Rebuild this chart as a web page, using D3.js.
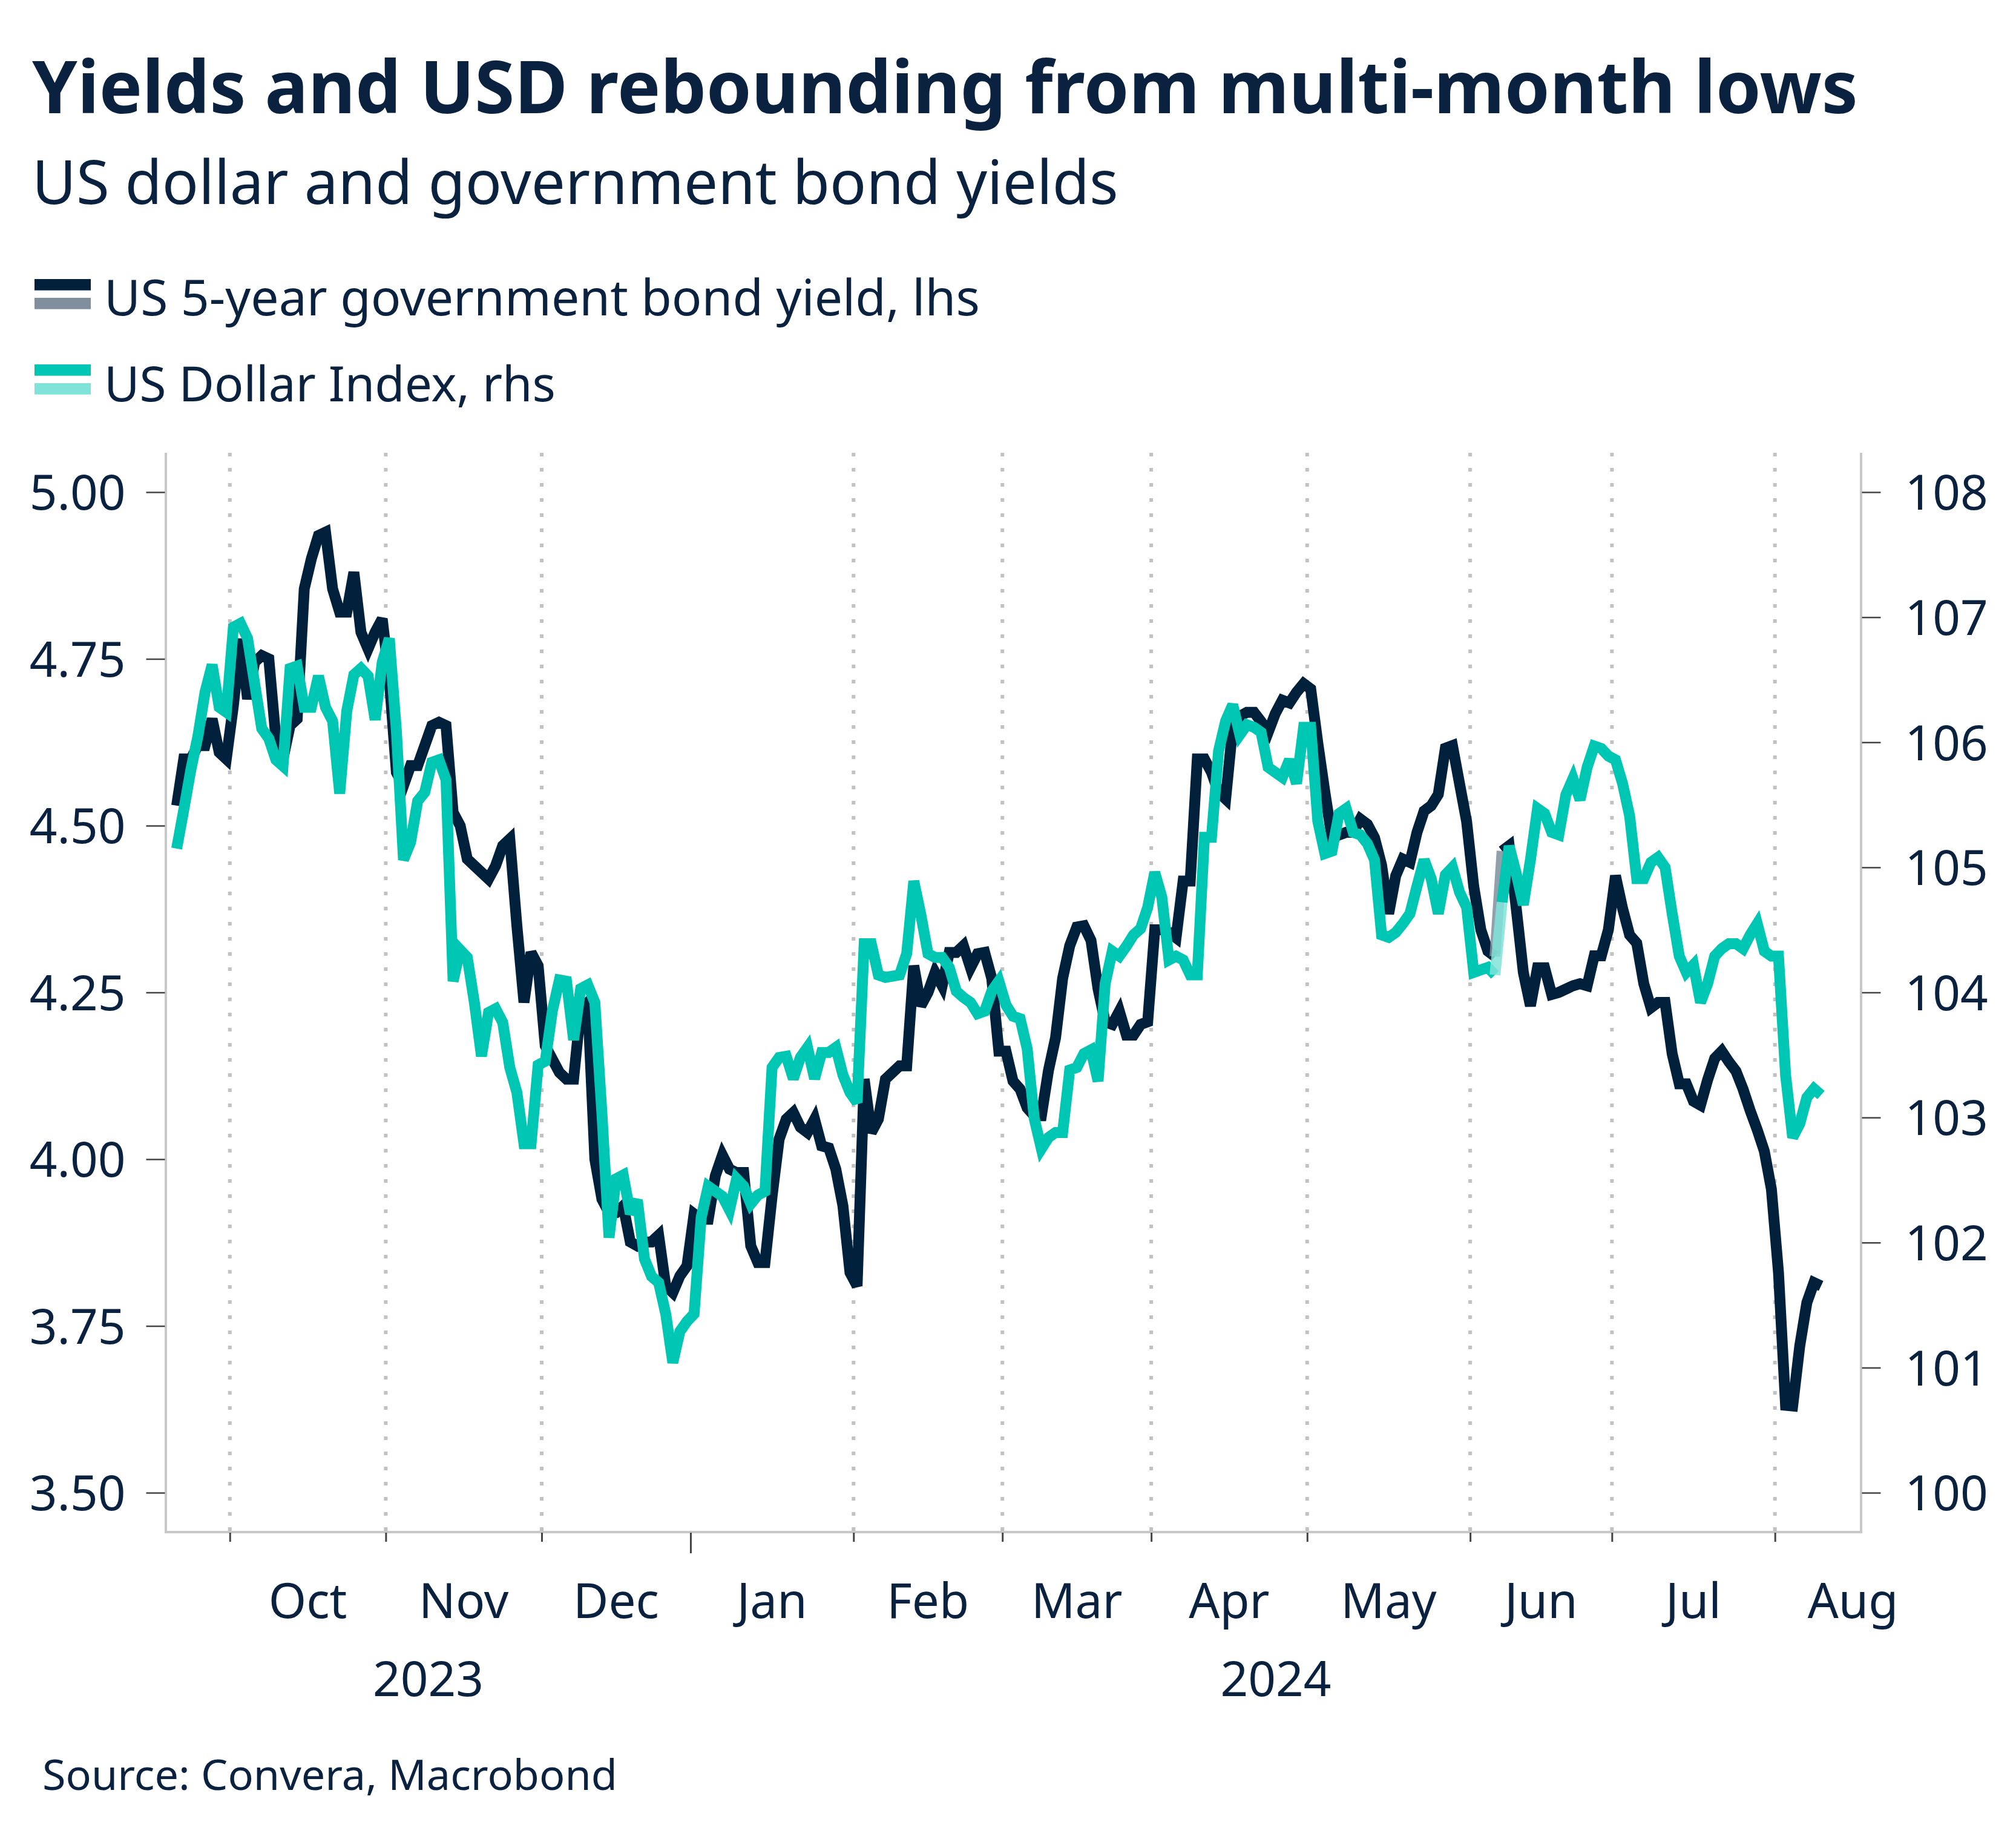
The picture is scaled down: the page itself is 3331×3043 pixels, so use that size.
<!DOCTYPE html>
<html><head><meta charset="utf-8">
<script src="https://cdn.jsdelivr.net/npm/d3@7"></script>
<style>
html,body{margin:0;padding:0;background:#ffffff;}
svg text{font-family:"Noto Sans","Open Sans",sans-serif;}
</style></head><body>
<svg id="chart" width="3331" height="3043"></svg>
<script>
// ---------------- DATA ----------------
const startDate = "2023-09-20"; // first business day of the series (daily, weekdays)
const yieldValues = [
 4.53,4.60,4.60,4.62,4.62,4.66,4.61,4.60,
 4.68,4.78,4.69,4.745,4.755,4.75,4.63,4.60,4.65,4.66,4.855,4.90,4.935,4.94,4.855,4.82,4.82,4.88,4.79,4.765,4.79,4.81,
 4.72,4.58,4.56,4.59,4.59,4.62,4.65,4.655,4.65,4.52,4.50,4.45,4.44,4.43,4.42,4.44,4.47,4.48,4.35,4.235,4.31,4.29,
 4.17,4.15,4.13,4.12,4.12,4.225,4.235,4.00,3.94,3.92,3.92,3.93,3.876,3.87,3.876,3.876,3.886,3.81,3.80,3.825,3.84,
 3.918,3.91,3.91,3.975,4.006,3.985,3.98,3.98,3.87,3.845,3.845,3.944,4.03,4.06,4.07,4.048,4.04,4.06,4.02,4.017,3.985,3.93,3.83,
 3.81,4.12,4.04,4.06,4.12,4.13,4.14,4.14,4.29,4.23,4.25,4.28,4.26,4.31,4.31,4.32,4.287,4.308,4.31,4.271,4.162,
 4.162,4.117,4.105,4.077,4.065,4.065,4.133,4.182,4.271,4.32,4.348,4.35,4.328,4.255,4.206,4.202,4.222,4.186,4.186,4.202,4.206,
 4.344,4.344,4.34,4.332,4.417,4.417,4.60,4.60,4.58,4.55,4.54,4.648,4.664,4.67,4.67,4.656,4.64,4.668,4.688,4.684,4.70,4.713,
 4.705,4.624,4.55,4.482,4.486,4.49,4.49,4.51,4.502,4.482,4.441,4.368,4.425,4.45,4.445,4.49,4.522,4.53,4.547,4.616,4.62,4.563,4.506,
 4.409,4.344,4.312,4.304,4.462,4.47,4.376,4.28,4.23,4.287,4.287,4.247,4.25,4.255,4.26,4.263,4.26,4.305,4.305,4.344,
 4.425,4.376,4.336,4.324,4.263,4.227,4.235,4.235,4.158,4.113,4.113,4.087,4.081,4.119,4.151,4.162,4.146,4.132,4.105,4.073,4.044,4.012,3.955,
 3.83,3.631,3.63,3.72,3.785,3.815,3.81
];
const dxyValues = [
 105.15,105.46,105.78,106.05,106.40,106.62,106.28,106.24,
 106.92,106.95,106.83,106.47,106.11,106.03,105.86,105.81,106.59,106.61,106.28,106.28,106.53,106.28,106.17,105.59,106.25,106.54,106.59,106.53,106.18,106.64,
 106.83,106.09,105.06,105.20,105.53,105.60,105.84,105.86,105.70,104.09,104.34,104.28,103.92,103.49,103.84,103.87,103.76,103.40,103.20,102.79,102.79,103.42,
 103.45,103.85,104.10,104.09,103.62,104.03,104.06,103.92,103.03,102.04,102.51,102.54,102.23,102.34,101.87,101.73,101.68,101.43,101.04,101.29,101.37,
 101.43,102.20,102.45,102.41,102.37,102.26,102.51,102.45,102.31,102.38,102.41,103.40,103.48,103.49,103.31,103.48,103.56,103.31,103.52,103.52,103.56,103.34,103.20,
 103.12,104.39,104.39,104.14,104.12,104.13,104.14,104.31,104.89,104.62,104.31,104.28,104.28,104.20,104.01,103.96,103.92,103.83,103.85,104.01,104.09,
 103.90,103.81,103.79,103.55,102.99,102.75,102.84,102.88,102.88,103.38,103.40,103.51,103.54,103.29,104.07,104.33,104.29,104.37,104.46,104.51,104.68,
 104.96,104.76,104.26,104.29,104.26,104.14,104.14,105.24,105.24,105.93,106.17,106.30,106.06,106.14,106.12,106.08,105.80,105.76,105.72,105.86,105.67,106.12,
 106.12,105.37,105.11,105.13,105.43,105.47,105.28,105.26,105.19,105.06,104.46,104.44,104.48,104.55,104.63,104.85,105.06,104.91,104.63,104.94,105.00,104.80,104.68,
 104.16,104.18,104.20,104.14,104.72,105.17,104.95,104.70,105.06,105.47,105.43,105.28,105.26,105.58,105.71,105.54,105.80,105.97,105.95,105.89,
 105.86,105.67,105.41,104.91,104.91,105.04,105.08,105.00,104.63,104.29,104.16,104.22,103.92,104.07,104.29,104.35,104.39,104.39,104.35,104.46,104.55,104.33,104.29,
 104.29,103.34,102.84,102.95,103.16,103.23,103.18
];
const highlightFrom = "2024-06-06"; // segment drawn in the lighter shade (to next business day)
const leftTicks = [3.50,3.75,4.00,4.25,4.50,4.75,5.00];
const rightTicks = [100,101,102,103,104,105,106,107,108];
const monthLabels = ["Oct","Nov","Dec","Jan","Feb","Mar","Apr","May","Jun","Jul","Aug"];
const yearLabels = ["2023","2024"];
const titleText = "Yields and USD rebounding from multi-month lows";
const subtitleText = "US dollar and government bond yields";
const legendLabels = ["US 5-year government bond yield, lhs","US Dollar Index, rhs"];
const sourceText = "Source: Convera, Macrobond";

// ---------------- STYLE ----------------
const NAVY = "#00203c", NAVY_L = "#7f8f9d", TEAL = "#00c7b3", TEAL_L = "#80e3d9";
const TXT = "#0a2240";
const X0 = 274, X1 = 3075, YT = 748, YB = 2531;
const LW = 18;

// business-day calendar
function businessDays(start, n){
  const out=[]; const d=new Date(start+"T00:00:00Z");
  while(out.length<n){ const w=d.getUTCDay(); if(w!==0&&w!==6) out.push(new Date(d)); d.setUTCDate(d.getUTCDate()+1); }
  return out;
}
const cal = businessDays(startDate, 300);
const fmtISO = d3.utcFormat("%Y-%m-%d");

const x = d3.scaleLinear().domain([-1.53, 237.65]).range([X0, X1]);
const yL = d3.scaleLinear().domain([3.5, 5.0]).range([2466, 813]);
const yR = d3.scaleLinear().domain([100, 108]).range([2466, 813]);

const svg = d3.select("#chart");
svg.append("rect").attr("width",3331).attr("height",3043).attr("fill","#fff");

function fit(sel, w){ const n=sel.node(); const fs=parseFloat(sel.attr("font-size")); const len=n.getComputedTextLength(); sel.attr("font-size", (fs*w/len).toFixed(2)); }

// titles
fit(svg.append("text").attr("x",53).attr("y",187).attr("font-size",130).attr("font-weight",700).attr("fill",TXT).text(titleText), 3017);
fit(svg.append("text").attr("x",53).attr("y",337).attr("font-size",96).attr("fill",TXT).text(subtitleText), 1795);

// legend
const lg = [
  {c1:NAVY,c2:NAVY_L,y:461,base:521,w:1447,t:legendLabels[0]},
  {c1:TEAL,c2:TEAL_L,y:602,base:663,w:746,t:legendLabels[1]}
];
lg.forEach(l=>{
  svg.append("rect").attr("x",57).attr("y",l.y).attr("width",93).attr("height",18.7).attr("fill",l.c1);
  svg.append("rect").attr("x",57).attr("y",l.y+31).attr("width",93).attr("height",18.7).attr("fill",l.c2);
  fit(svg.append("text").attr("x",172).attr("y",l.base).attr("font-size",84).attr("fill",TXT).text(l.t), l.w);
});

// month boundaries
const monthStarts = d3.utcMonths(new Date(Date.UTC(2023,9,1)), new Date(Date.UTC(2024,8,2)));
const bounds = monthStarts.map(m => cal.findIndex(d => d >= m) - 0.5);

// gridlines (dotted) except at year change
const g = svg.append("g");
monthStarts.slice(0,11).forEach((m,i)=>{
  if (m.getUTCMonth()===0) return;
  g.append("line").attr("x1",x(bounds[i])).attr("x2",x(bounds[i])).attr("y1",YT).attr("y2",YB)
   .attr("stroke","#c2c2c2").attr("stroke-width",6).attr("stroke-dasharray","6 19");
});

// frame
svg.append("line").attr("x1",X0).attr("x2",X0).attr("y1",YT).attr("y2",YB+1).attr("stroke","#c8c8c8").attr("stroke-width",4);
svg.append("line").attr("x1",X1).attr("x2",X1).attr("y1",YT).attr("y2",YB+1).attr("stroke","#c8c8c8").attr("stroke-width",4);
svg.append("line").attr("x1",X0-2).attr("x2",X1+2).attr("y1",YB).attr("y2",YB).attr("stroke","#c8c8c8").attr("stroke-width",4);

// y axes
const axL = svg.append("g").attr("transform",`translate(${X0-1.5},0)`)
  .call(d3.axisLeft(yL).tickValues(leftTicks).tickFormat(d3.format(".2f")).tickSize(31).tickPadding(34));
const axR = svg.append("g").attr("transform",`translate(${X1+1.5},0)`)
  .call(d3.axisRight(yR).tickValues(rightTicks).tickFormat(d3.format("d")).tickSize(31).tickPadding(40));
[axL,axR].forEach(a=>{
  a.select(".domain").remove();
  a.selectAll(".tick line").attr("stroke","#444").attr("stroke-width",2.5);
  a.selectAll(".tick text").attr("font-size",80).attr("fill",TXT).attr("font-family","Noto Sans").attr("dy","0.36em");
});

// x axis ticks
const tickIdx = bounds.slice(0,11);
const axB = svg.append("g").attr("transform",`translate(0,${YB+1})`)
  .call(d3.axisBottom(x).tickValues(tickIdx).tickFormat("").tickSize(15));
axB.select(".domain").remove();
axB.selectAll(".tick line").attr("stroke","#444").attr("stroke-width",3)
  .attr("y2",(d,i)=> monthStarts[i].getUTCMonth()===0 ? 34 : 15);

// month labels
monthLabels.forEach((lab,i)=>{
  const cx = x((bounds[i]+bounds[i+1])/2);
  svg.append("text").attr("x",cx).attr("y",2673).attr("text-anchor","middle").attr("font-size",80).attr("fill",TXT).text(lab);
});
const janIdx = monthStarts.findIndex(m=>m.getUTCMonth()===0);
const xJan = x(bounds[janIdx]);
svg.append("text").attr("x",(X0+xJan)/2).attr("y",2802).attr("text-anchor","middle").attr("font-size",80).attr("fill",TXT).text(yearLabels[0]);
svg.append("text").attr("x",(xJan+X1)/2).attr("y",2802).attr("text-anchor","middle").attr("font-size",80).attr("fill",TXT).text(yearLabels[1]);

// source
fit(svg.append("text").attr("x",70).attr("y",2957).attr("font-size",72).attr("fill",TXT).text(sourceText), 950);

// series
const hi = cal.findIndex(d => fmtISO(d) === highlightFrom);
function drawSeries(vals, yS, col, colL){
  const pts = vals.map((v,i)=>[i,v]);
  const line = d3.line().x(d=>x(d[0])).y(d=>yS(d[1]));
  const parts = [
    {p: pts.slice(0, hi+1), c: col, o: 1},
    {p: pts.slice(hi+1), c: col, o: 1},
    {p: pts.slice(hi, hi+2), c: colL, o: 0.85}
  ];
  parts.forEach(s=>{
    svg.append("path").attr("d", line(s.p)).attr("fill","none").attr("stroke",s.c).attr("stroke-opacity",s.o)
      .attr("stroke-width",LW).attr("stroke-linejoin","miter").attr("stroke-miterlimit",3).attr("stroke-linecap","butt");
  });
}
drawSeries(yieldValues, yL, NAVY, NAVY_L);
drawSeries(dxyValues, yR, TEAL, TEAL_L);
</script>
</body></html>
